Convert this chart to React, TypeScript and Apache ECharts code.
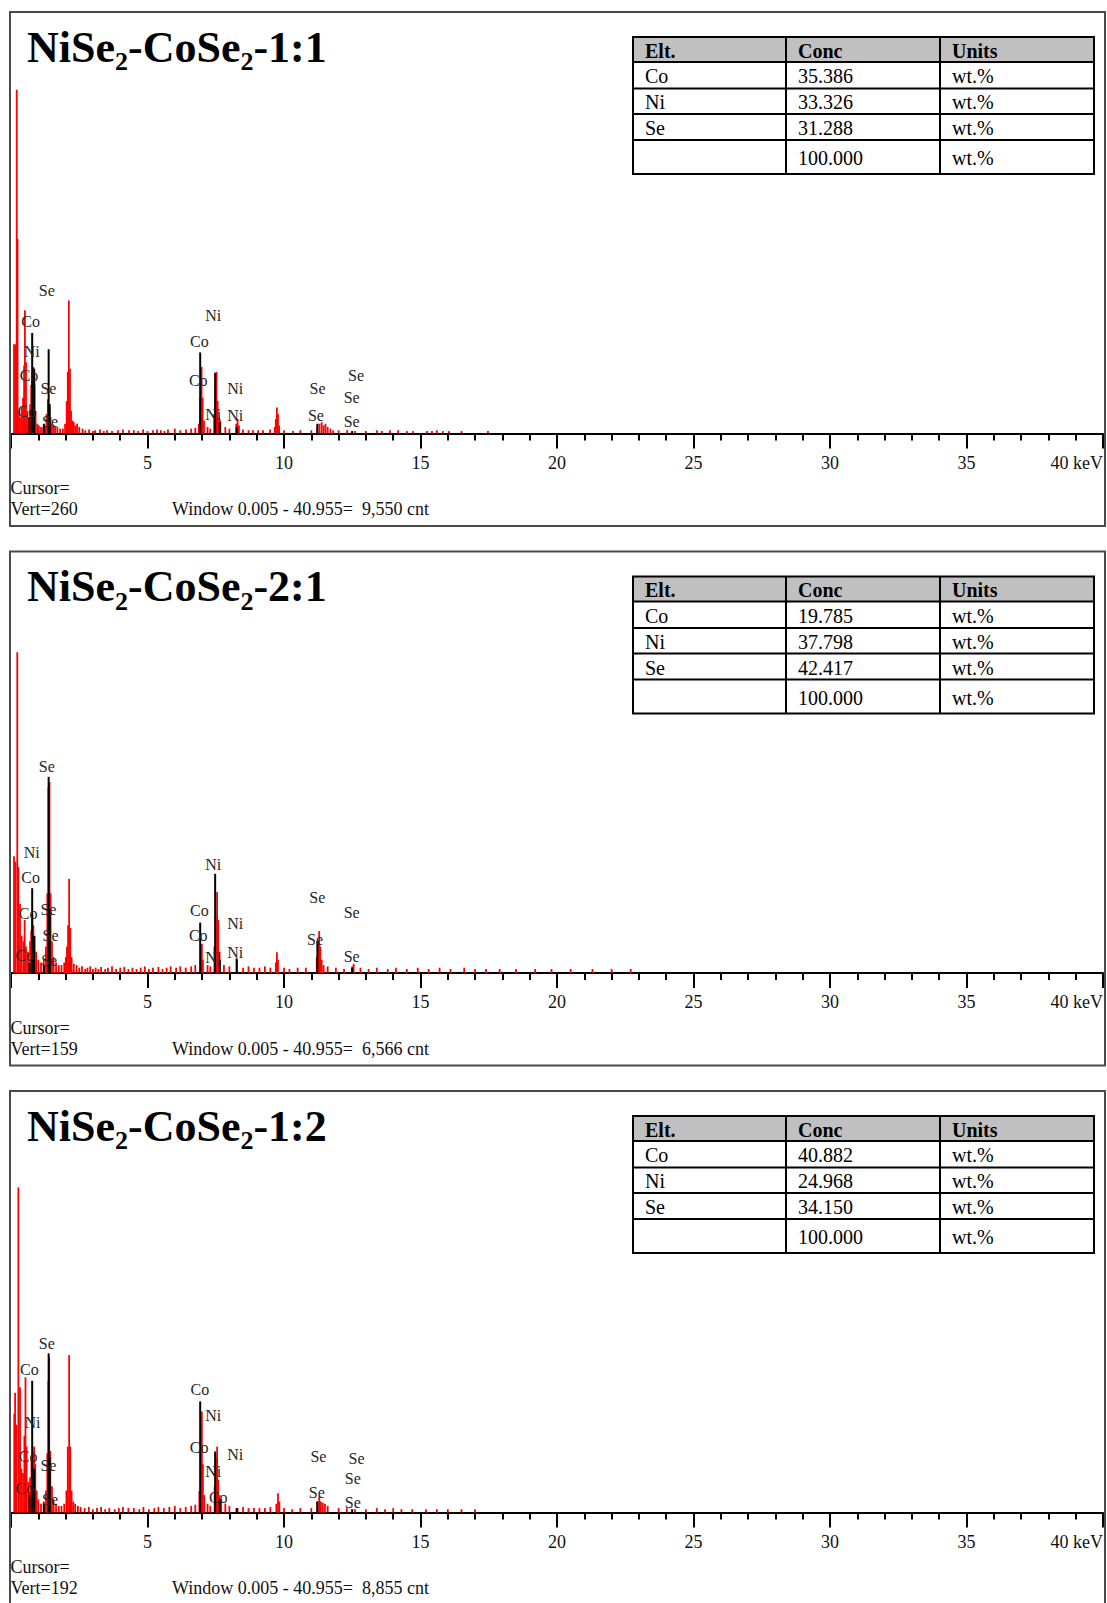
import React, { useEffect, useRef } from "react";
import * as echarts from "echarts";

type Pt = [number, number];
type Lbl = [number, number, string];

// ---------- data ----------
const sampleRatios = ["1:1", "2:1", "1:2"];
const vertCounts = [260, 159, 192];
const windowCounts = ["9,550", "6,566", "8,855"];
const windowRange = "0.005 - 40.955";
const tableHeader = ["Elt.", "Conc", "Units"];
const tableElements = ["Co", "Ni", "Se"];
const concSample1 = ["35.386", "33.326", "31.288"];
const concSample2 = ["19.785", "37.798", "42.417"];
const concSample3 = ["40.882", "24.968", "34.150"];
const concTotal = "100.000";
const concUnit = "wt.%";
const energyMax = 40;
const energyMajorStep = 5;

// red spectrum (keV, counts) – peaks
const spectrum1: Pt[] = [
  [0.11, 55], [0.16, 55], [0.21, 212], [0.24, 120], [0.29, 14], [0.33, 10], [0.39, 16], [0.44, 22], [0.48, 42],
  [0.51, 76], [0.55, 44], [0.6, 14], [0.66, 10], [0.7, 18], [0.74, 30], [0.78, 38], [0.82, 41], [0.86, 30],
  [0.9, 14], [0.96, 6], [1.02, 5], [1.1, 4], [1.18, 4], [1.25, 5], [1.3, 12], [1.35, 21], [1.4, 18], [1.45, 10],
  [1.5, 6], [1.56, 5], [1.62, 4], [1.7, 4], [1.8, 3], [1.9, 3], [1.98, 6], [2.04, 20], [2.08, 38], [2.12, 82],
  [2.16, 40], [2.2, 14], [2.25, 8], [2.3, 7], [2.36, 5], [2.42, 6], [2.5, 4],
  [6.88, 6], [6.93, 22], [6.98, 41], [7.02, 22], [7.07, 8], [7.44, 12], [7.49, 30], [7.53, 38], [7.57, 20],
  [7.62, 10], [7.67, 8], [8.25, 6], [8.3, 9], [8.35, 5], [9.66, 4], [9.7, 9], [9.74, 16], [9.78, 12], [9.82, 5],
  [11.22, 4], [11.3, 6], [11.38, 7], [11.45, 5], [11.52, 6], [11.6, 4], [11.7, 3], [11.8, 2],
];
const spectrum2: Pt[] = [
  [0.11, 44], [0.16, 42], [0.23, 121], [0.27, 40], [0.33, 26], [0.39, 14], [0.46, 12], [0.5, 20], [0.55, 10],
  [0.62, 8], [0.7, 12], [0.74, 16], [0.78, 22], [0.82, 18], [0.86, 14], [0.92, 8], [1.0, 5], [1.1, 4], [1.2, 5],
  [1.28, 10], [1.33, 30], [1.37, 70], [1.41, 72], [1.45, 30], [1.5, 12], [1.56, 6], [1.65, 4], [1.75, 3],
  [1.85, 3], [1.95, 4], [2.01, 6], [2.05, 10], [2.09, 18], [2.13, 35.5], [2.17, 17], [2.22, 6], [2.3, 3.5], [2.4, 3],
  [6.95, 6], [6.99, 11], [7.03, 5], [7.45, 10], [7.5, 22], [7.55, 30.5], [7.59, 20], [7.64, 8], [8.28, 5],
  [9.7, 4], [9.74, 7.8], [9.78, 5], [11.2, 6], [11.25, 12], [11.29, 15.8], [11.33, 10], [11.38, 5], [11.45, 3],
  [12.5, 2.5], [12.55, 3.5],
];
const spectrum3: Pt[] = [
  [0.12, 45], [0.15, 54.6], [0.2, 40], [0.27, 148], [0.33, 57], [0.38, 20], [0.44, 18], [0.49, 35], [0.53, 61.6],
  [0.57, 30], [0.63, 14], [0.7, 16], [0.75, 24], [0.8, 28], [0.85, 30], [0.89, 22], [0.94, 10], [1.0, 6], [1.1, 4],
  [1.2, 5], [1.28, 10], [1.33, 27], [1.37, 60], [1.4, 70.7], [1.44, 28], [1.5, 12], [1.56, 6], [1.65, 4],
  [1.75, 3], [1.85, 3], [1.95, 4], [2.03, 10], [2.08, 30], [2.13, 71.7], [2.17, 30], [2.22, 10], [2.28, 5],
  [2.35, 4], [2.45, 3],
  [6.9, 9.7], [6.95, 25], [6.99, 46], [7.03, 22], [7.08, 8], [7.46, 12], [7.51, 25], [7.55, 30], [7.59, 14.8],
  [7.64, 8], [7.7, 6], [8.3, 2], [9.72, 4], [9.78, 8.8], [9.83, 5], [11.22, 5], [11.29, 7.3], [11.35, 5],
  [11.42, 4.5], [11.5, 4], [11.6, 3],
];

// red spectrum – low background bits
const background1: Pt[] = [
  [2.62, 3], [2.72, 2], [2.86, 2.5], [3.0, 1.5], [3.08, 2], [3.26, 2.5], [3.4, 1.5], [3.52, 2], [3.7, 1.5], [3.92, 2],
  [4.1, 2.5], [4.32, 2], [4.5, 2], [4.66, 1.5], [4.84, 2.5], [5.0, 1.5], [5.2, 2], [5.35, 2.5], [5.49, 2], [5.62, 1.5],
  [5.75, 2.5], [6.0, 3], [6.2, 2], [6.41, 2.5], [6.6, 3], [6.75, 3.5], [7.2, 4], [7.3, 3], [7.85, 4], [8.0, 3],
  [8.5, 2.5], [8.7, 2], [8.86, 2], [9.05, 2], [9.23, 2], [9.49, 2.5], [10.0, 2], [10.33, 1.5], [10.6, 2], [11.0, 2],
  [12.0, 2], [12.31, 2], [12.6, 1.5], [13.0, 1.5], [13.4, 2], [13.59, 1.5], [13.88, 2], [14.18, 2], [14.5, 1.5],
  [14.73, 1.5], [15.24, 1.5], [15.42, 1.5], [15.6, 2], [15.82, 1.5], [16.04, 1.5], [16.5, 1.5], [17.47, 1.5],
];
const background2: Pt[] = [
  [2.5, 2], [2.6, 2.5], [2.72, 1.5], [2.8, 2], [2.9, 2.5], [3.0, 1.5], [3.1, 2], [3.2, 1.5], [3.3, 2.3], [3.45, 1.5],
  [3.55, 2], [3.7, 2.5], [3.85, 1.5], [4.0, 2], [4.15, 2.3], [4.3, 1.5], [4.45, 2], [4.6, 1.5], [4.75, 2], [4.9, 2.5],
  [5.05, 1.5], [5.2, 2], [5.4, 2.3], [5.55, 1.5], [5.7, 2], [5.85, 2.5], [6.05, 2], [6.2, 2.5], [6.4, 2], [6.6, 2.5],
  [6.75, 3], [7.2, 3], [7.3, 2.5], [7.8, 3], [8.0, 2.5], [8.5, 2], [8.7, 2.5], [8.9, 2], [9.1, 2], [9.3, 2.5],
  [9.5, 2], [10.0, 2], [10.2, 1.5], [10.5, 2], [10.8, 2], [11.6, 2.5], [11.9, 2], [12.2, 1.5], [12.8, 2], [13.1, 1.5],
  [13.4, 2], [13.8, 1.5], [14.1, 2], [14.5, 1.5], [14.9, 2], [15.3, 1.5], [15.7, 2], [16.1, 1.5], [16.6, 2],
  [17.0, 1.5], [17.4, 1.5], [17.9, 1.5], [18.5, 1.5], [19.2, 1.5], [19.8, 1.5], [20.5, 1.5], [21.3, 1.5],
  [22.0, 1.5], [22.7, 1.5],
];
const background3: Pt[] = [
  [2.55, 2.5], [2.7, 2], [2.85, 2.5], [3.0, 1.5], [3.15, 2], [3.3, 2.5], [3.45, 1.5], [3.6, 2], [3.8, 1.5], [3.95, 2],
  [4.1, 2.5], [4.3, 2], [4.5, 2], [4.7, 1.5], [4.85, 2.5], [5.05, 1.5], [5.25, 2], [5.4, 2.5], [5.6, 2], [5.8, 2.5],
  [6.0, 3], [6.2, 2], [6.4, 2.5], [6.6, 3], [6.75, 3.5], [7.2, 4], [7.3, 3], [7.85, 4], [8.0, 3], [8.5, 2.5],
  [8.7, 2], [8.9, 2], [9.1, 2], [9.3, 2], [9.5, 2.5], [10.0, 2], [10.3, 1.5], [10.6, 2], [11.0, 2], [12.0, 2],
  [12.3, 2], [12.6, 1.5], [13.0, 1.5], [13.4, 2], [13.7, 1.5], [14.0, 2], [14.3, 1.5], [14.7, 1.5], [15.2, 1.5],
  [15.6, 1.5], [16.0, 1.5], [16.5, 1.5], [17.0, 1.5],
];

// black element-line markers (keV, counts)
const markers1: Pt[] = [
  [0.678, 10], [0.776, 62], [0.851, 40], [1.204, 6], [1.379, 52], [1.419, 18], [6.93, 50], [7.478, 37.5],
  [7.649, 7], [8.265, 4], [11.222, 6], [12.496, 1.5],
];
const markers2: Pt[] = [
  [0.678, 4], [0.776, 32], [0.851, 14], [1.204, 3], [1.379, 74], [1.419, 24], [6.93, 19], [7.478, 37.4],
  [7.649, 5], [8.265, 5.5], [11.222, 12], [12.496, 2],
];
const markers3: Pt[] = [
  [0.678, 8], [0.776, 60], [0.851, 20], [1.204, 4], [1.379, 72.5], [1.419, 25], [6.93, 50.6], [7.478, 27.8],
  [7.649, 6], [8.265, 2], [11.222, 5], [12.496, 1.5],
];

// element labels (keV, counts, element)
const labels1: Lbl[] = [
  [1.31, 88.5, "Se"], [0.72, 69, "Co"], [0.76, 50.5, "Ni"], [0.66, 36, "Co"], [1.37, 28, "Se"], [0.58, 13.5, "Co"],
  [1.43, 7.3, "Se"], [7.41, 73, "Ni"], [6.9, 57, "Co"], [6.86, 33, "Co"], [8.21, 28, "Ni"], [7.41, 12, "Ni"],
  [8.21, 11.4, "Ni"], [11.23, 28, "Se"], [11.17, 11.4, "Se"], [12.64, 36, "Se"], [12.48, 22, "Se"], [12.48, 7.3, "Se"],
];
const labels2: Lbl[] = [
  [1.31, 78, "Se"], [0.76, 45.5, "Ni"], [0.72, 36, "Co"], [0.63, 22.5, "Co"], [1.37, 24, "Se"], [1.45, 14, "Se"],
  [0.51, 6.6, "Co"], [1.4, 4.7, "Se"], [7.41, 41, "Ni"], [6.9, 23.6, "Co"], [6.86, 14.2, "Co"], [8.21, 18.8, "Ni"],
  [7.41, 6, "Ni"], [8.21, 7.9, "Ni"], [11.22, 28.3, "Se"], [11.14, 12.5, "Se"], [12.48, 23, "Se"], [12.48, 6.2, "Se"],
];
const labels3: Lbl[] = [
  [1.31, 77, "Se"], [0.67, 65, "Co"], [0.79, 41, "Ni"], [0.63, 25.4, "Co"], [1.37, 21.6, "Se"], [0.51, 11, "Co"],
  [1.43, 5.7, "Se"], [6.92, 56, "Co"], [7.41, 44, "Ni"], [6.89, 29.7, "Co"], [8.21, 26.2, "Ni"], [7.41, 18.7, "Ni"],
  [7.59, 7, "Co"], [11.26, 25.5, "Se"], [11.2, 9, "Se"], [12.66, 24.7, "Se"], [12.52, 15.6, "Se"], [12.52, 4.5, "Se"],
];

const spectra = [spectrum1, spectrum2, spectrum3];
const backgrounds = [background1, background2, background3];
const markers = [markers1, markers2, markers3];
const labels = [labels1, labels2, labels3];
const concentrations = [concSample1, concSample2, concSample3];

// ---------- layout ----------
const W = 1107;
const H = 1603;
const SERIF = '"Liberation Serif", "Times New Roman", serif';
const panelTops = [12, 551.5, 1091];
const frameLeft = 10;
const frameWidth = 1095;
const frameHeight = 514;
const plotLeft = 11;
const plotWidth = 1092;
const plotHeight = 421.5;
const tableCols = [633, 786, 940, 1094];
const tableRows = [25, 50, 76.5, 102, 128, 162];

function measure(text: string, font: string): number {
  const c = document.createElement("canvas").getContext("2d");
  if (!c) return text.length * 20;
  c.font = font;
  return c.measureText(text).width;
}

function spikeRenderer(width: number, color: string) {
  return (_params: any, api: any) => {
    const x = api.value(0);
    const y = api.value(1);
    const top = api.coord([x, y]);
    const base = api.coord([x, 0]);
    return {
      type: "rect",
      shape: { x: top[0] - width / 2, y: top[1], width, height: base[1] - top[1] },
      style: { fill: color },
    };
  };
}

function buildOption() {
  const grid: any[] = [];
  const xAxis: any[] = [];
  const yAxis: any[] = [];
  const series: any[] = [];
  const graphic: any[] = [];

  const bigSize = 44;
  const subSize = 26;
  const bigFont = `bold ${bigSize}px ${SERIF}`;
  const subFont = `bold ${subSize}px ${SERIF}`;

  for (let i = 0; i < 3; i++) {
    const T = panelTops[i];
    grid.push({ left: plotLeft, top: T, width: plotWidth, height: plotHeight, containLabel: false });
    xAxis.push({
      gridIndex: i,
      type: "value",
      min: 0,
      max: energyMax,
      interval: energyMajorStep,
      axisLine: { show: true, onZero: false, lineStyle: { color: "#000", width: 2 } },
      axisTick: { show: true, length: 15, lineStyle: { color: "#000", width: 2 } },
      minorTick: { show: true, splitNumber: 5, length: 7, lineStyle: { color: "#000", width: 2 } },
      splitLine: { show: false },
      minorSplitLine: { show: false },
      axisLabel: {
        show: true,
        margin: 20,
        fontFamily: SERIF,
        fontSize: 18,
        color: "#111",
        showMinLabel: false,
        showMaxLabel: true,
        alignMaxLabel: "right",
        formatter: (v: number) => (v === 0 ? "" : v === energyMax ? `${v} keV` : String(v)),
      },
    });
    yAxis.push({ gridIndex: i, type: "value", min: 0, max: vertCounts[i], show: false });

    series.push({
      type: "custom",
      name: `spectrum-${i}`,
      xAxisIndex: i,
      yAxisIndex: i,
      data: spectra[i].concat(backgrounds[i]),
      encode: { x: 0, y: 1 },
      renderItem: spikeRenderer(1.8, "#ff0000"),
      z: 2,
      silent: true,
    });
    series.push({
      type: "custom",
      name: `markers-${i}`,
      xAxisIndex: i,
      yAxisIndex: i,
      data: markers[i],
      encode: { x: 0, y: 1 },
      renderItem: spikeRenderer(2, "#000"),
      z: 3,
      silent: true,
    });
    const lbls = labels[i];
    series.push({
      type: "custom",
      name: `labels-${i}`,
      xAxisIndex: i,
      yAxisIndex: i,
      data: lbls.map((l) => [l[0], l[1]]),
      encode: { x: 0, y: 1 },
      renderItem: (params: any, api: any) => {
        const p = api.coord([api.value(0), api.value(1)]);
        return {
          type: "text",
          x: p[0],
          y: p[1],
          style: {
            text: lbls[params.dataIndex][2],
            font: `16px ${SERIF}`,
            fill: "#262626",
            textAlign: "center",
            textVerticalAlign: "middle",
            verticalAlign: "middle",
          },
        };
      },
      z: 4,
      silent: true,
    });

    // frame
    graphic.push({
      type: "rect",
      shape: { x: frameLeft, y: T, width: frameWidth, height: frameHeight },
      style: { fill: "none", stroke: "#4a4a4a", lineWidth: 2 },
      z: 1,
      silent: true,
    });

    // title with subscripts
    const pieces: [string, boolean][] = [
      ["NiSe", false],
      ["2", true],
      ["-CoSe", false],
      ["2", true],
      ["-" + sampleRatios[i], false],
    ];
    let tx = 27;
    const baseline = T + 50;
    for (const [txt, sub] of pieces) {
      const font = sub ? subFont : bigFont;
      const size = sub ? subSize : bigSize;
      const bl = sub ? baseline + 8.5 : baseline;
      graphic.push({
        type: "text",
        x: tx,
        y: bl - 0.34 * size,
        style: { text: txt, font, fill: "#000", textAlign: "left", textVerticalAlign: "middle", verticalAlign: "middle" },
        z: 10,
        silent: true,
      });
      tx += measure(txt, font);
    }

    // table
    graphic.push({
      type: "rect",
      shape: { x: tableCols[0], y: T + tableRows[0], width: tableCols[3] - tableCols[0], height: tableRows[1] - tableRows[0] },
      style: { fill: "#c0c0c0" },
      z: 10,
      silent: true,
    });
    for (const ry of tableRows) {
      graphic.push({
        type: "line",
        shape: { x1: tableCols[0] - 1, y1: T + ry, x2: tableCols[3] + 1, y2: T + ry },
        style: { stroke: "#000", lineWidth: 2 },
        z: 11,
        silent: true,
      });
    }
    for (const cx of tableCols) {
      graphic.push({
        type: "line",
        shape: { x1: cx, y1: T + tableRows[0], x2: cx, y2: T + tableRows[tableRows.length - 1] },
        style: { stroke: "#000", lineWidth: 2 },
        z: 11,
        silent: true,
      });
    }
    const rowsText: string[][] = [tableHeader];
    for (let r = 0; r < tableElements.length; r++) {
      rowsText.push([tableElements[r], concentrations[i][r], concUnit]);
    }
    rowsText.push(["", concTotal, concUnit]);
    rowsText.forEach((row, r) => {
      const cy = T + (tableRows[r] + tableRows[r + 1]) / 2 + 1;
      row.forEach((cell, c) => {
        if (!cell) return;
        graphic.push({
          type: "text",
          x: tableCols[c] + 12,
          y: cy,
          style: {
            text: cell,
            font: `${r === 0 ? "bold " : ""}20px ${SERIF}`,
            fill: "#000",
            textAlign: "left",
            textVerticalAlign: "middle",
            verticalAlign: "middle",
          },
          z: 12,
          silent: true,
        });
      });
    });

    // footer texts
    const footer: [string, number, number][] = [
      ["Cursor=", 10.5, T + 476],
      [`Vert=${vertCounts[i]}`, 10.5, T + 497],
      [`Window ${windowRange}=  ${windowCounts[i]} cnt`, 172, T + 497],
    ];
    for (const [txt, x, y] of footer) {
      graphic.push({
        type: "text",
        x,
        y,
        style: {
          text: txt,
          font: `18px ${SERIF}`,
          fill: "#111",
          textAlign: "left",
          textVerticalAlign: "middle",
          verticalAlign: "middle",
          whiteSpace: "pre",
        },
        z: 10,
        silent: true,
      });
    }
  }

  return {
    animation: false,
    backgroundColor: "#fff",
    grid,
    xAxis,
    yAxis,
    series,
    graphic: { elements: graphic },
  };
}

export default function App() {
  const ref = useRef<HTMLDivElement>(null);
  useEffect(() => {
    if (!ref.current) return;
    const chart = echarts.init(ref.current, null, { renderer: "svg" });
    chart.setOption(buildOption() as any);
    return () => chart.dispose();
  }, []);
  return (
    <div
      ref={ref}
      style={{ position: "absolute", left: 0, top: 0, width: W, height: H, background: "#fff" }}
    />
  );
}
